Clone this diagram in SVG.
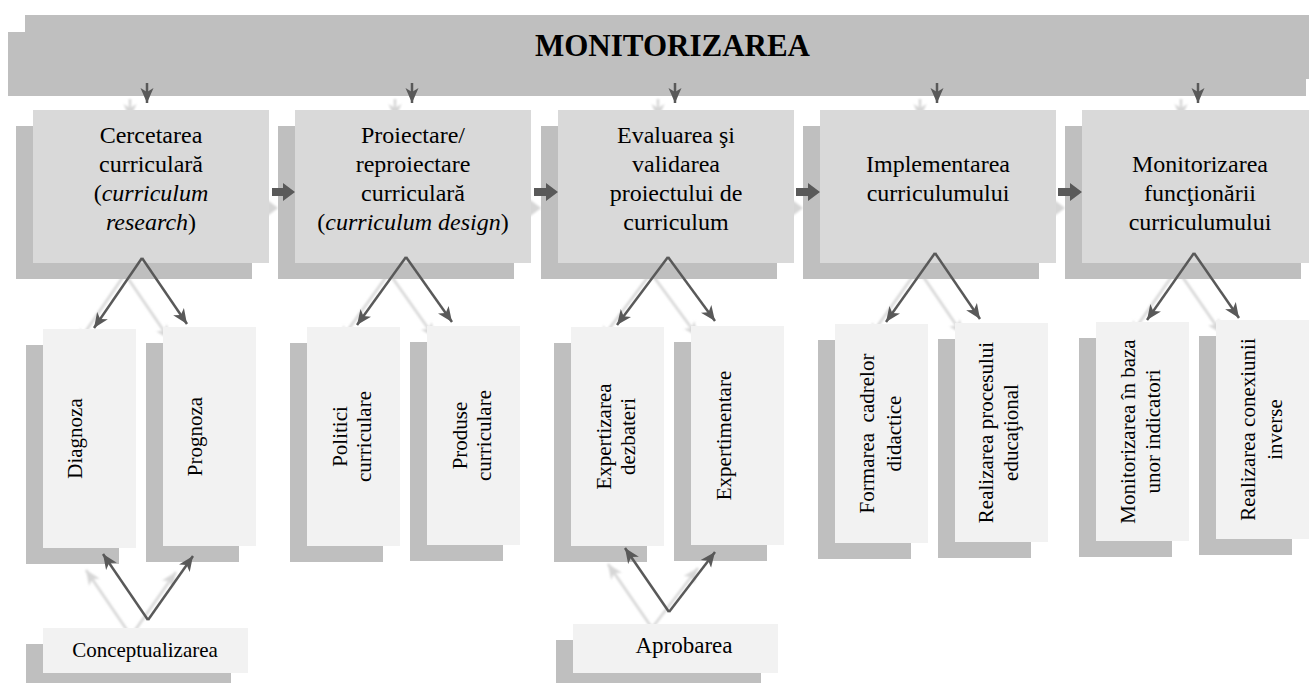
<svg xmlns="http://www.w3.org/2000/svg" width="1309" height="683" viewBox="0 0 1309 683">
<defs>
<marker id="ah" markerUnits="userSpaceOnUse" markerWidth="16" markerHeight="14" refX="15" refY="7" orient="auto"><path d="M0,0.5 L15,7 L0,13.5 L4,7 z" fill="#595959"/></marker>
<marker id="ahl" markerUnits="userSpaceOnUse" markerWidth="16" markerHeight="14" refX="15" refY="7" orient="auto"><path d="M0,0.5 L15,7 L0,13.5 L4,7 z" fill="#d6d6d6"/></marker>
<filter id="soft" x="-10%" y="-10%" width="120%" height="120%"><feGaussianBlur stdDeviation="1"/></filter>
</defs>
<style>
.sh{fill:#bfbfbf}
.top{fill:#d9d9d9}
.bot{fill:#f2f2f2}
.ban{fill:#bfbfbf}
.t{font-family:"Liberation Serif","Times New Roman",serif;fill:#000}
.t24{font-size:24px}
.t21{font-size:21px}
.c{stroke:#595959;stroke-width:2.5;fill:none;marker-end:url(#ah)}
.cl{stroke:#d6d6d6;stroke-width:2.5;fill:none;marker-end:url(#ahl)}
.blk{fill:#595959}
.blkl{fill:#d6d6d6}
</style>

<g id="banner">
<rect class="ban" x="8" y="32" width="1298" height="64"/>
<rect class="ban" x="25" y="15" width="1298" height="64"/>
<text class="t" x="672.5" y="56" font-size="31" font-weight="bold" text-anchor="middle">MONITORIZAREA</text>
</g>

<g id="connector-shadows" filter="url(#soft)">
<path class="cl" d="M130,99 V119"/>
<path class="cl" d="M395,99 V119"/>
<path class="cl" d="M658,99 V119"/>
<path class="cl" d="M920,99 V119"/>
<path class="cl" d="M1181,99 V119"/>
<polygon class="blkl" points="255,204 266,204 266,199 278,208 266,217 266,212 255,212"/>
<polygon class="blkl" points="517,204 529,204 529,199 541,208 529,217 529,212 517,212"/>
<polygon class="blkl" points="779,204 791,204 791,199 803,208 791,217 791,212 779,212"/>
<polygon class="blkl" points="1041,204 1053,204 1053,199 1065,208 1053,217 1053,212 1041,212"/>
<path class="cl" d="M125,274 L77,344"/>
<path class="cl" d="M125,274 L170,340"/>
<path class="cl" d="M389,273 L340,341"/>
<path class="cl" d="M389,273 L435,338"/>
<path class="cl" d="M651,273 L600,341"/>
<path class="cl" d="M651,273 L698,337"/>
<path class="cl" d="M918,269 L869,338"/>
<path class="cl" d="M918,269 L963,335"/>
<path class="cl" d="M1177,269 L1130,336"/>
<path class="cl" d="M1177,269 L1222,334"/>
<path class="cl" d="M131,636 L86,570"/>
<path class="cl" d="M131,636 L176,572"/>
<path class="cl" d="M652,628 L608,564"/>
<path class="cl" d="M652,628 L698,568"/>
</g>

<g id="n-cercetarea">
<rect class="sh" x="16" y="126" width="236" height="153"/>
<rect class="top" x="33" y="110" width="236" height="153"/>
<text class="t t24" text-anchor="middle"><tspan x="151" y="143">Cercetarea</tspan><tspan x="151" y="172">curriculară</tspan><tspan x="151" y="201">(<tspan font-style="italic">curriculum</tspan></tspan><tspan x="151" y="230"><tspan font-style="italic">research</tspan>)</tspan></text>
</g>
<g id="n-proiectare">
<rect class="sh" x="278" y="126" width="236" height="153"/>
<rect class="top" x="295" y="110" width="236" height="153"/>
<text class="t t24" text-anchor="middle"><tspan x="413" y="143">Proiectare/</tspan><tspan x="413" y="172">reproiectare</tspan><tspan x="413" y="201">curriculară</tspan><tspan x="413" y="230">(<tspan font-style="italic">curriculum design</tspan>)</tspan></text>
</g>
<g id="n-evaluarea">
<rect class="sh" x="541" y="126" width="236" height="153"/>
<rect class="top" x="558" y="110" width="236" height="153"/>
<text class="t t24" text-anchor="middle"><tspan x="676" y="143">Evaluarea şi</tspan><tspan x="676" y="172">validarea</tspan><tspan x="676" y="201">proiectului de</tspan><tspan x="676" y="230">curriculum</tspan></text>
</g>
<g id="n-implementarea">
<rect class="sh" x="803" y="126" width="236" height="153"/>
<rect class="top" x="820" y="110" width="236" height="153"/>
<text class="t t24" text-anchor="middle"><tspan x="938" y="172">Implementarea</tspan><tspan x="938" y="201">curriculumului</tspan></text>
</g>
<g id="n-monitorizarea-functionarii">
<rect class="sh" x="1065" y="126" width="236" height="153"/>
<rect class="top" x="1082" y="110" width="236" height="153"/>
<text class="t t24" text-anchor="middle"><tspan x="1200" y="172">Monitorizarea</tspan><tspan x="1200" y="201">funcţionării</tspan><tspan x="1200" y="230">curriculumului</tspan></text>
</g>

<g id="n-diagnoza">
<rect class="sh" x="26" y="345" width="93" height="219"/>
<rect class="bot" x="43" y="329" width="93" height="219"/>
<text class="t t21" text-anchor="middle" transform="translate(82,438.5) rotate(-90)">Diagnoza</text>
</g>
<g id="n-prognoza">
<rect class="sh" x="146" y="343" width="93" height="219"/>
<rect class="bot" x="163" y="327" width="93" height="219"/>
<text class="t t21" text-anchor="middle" transform="translate(202,436.5) rotate(-90)">Prognoza</text>
</g>
<g id="n-politici">
<rect class="sh" x="290" y="343" width="93" height="219"/>
<rect class="bot" x="307" y="327" width="93" height="219"/>
<text class="t t21" text-anchor="middle" transform="translate(347,436.5) rotate(-90)">Politici</text>
<text class="t t21" text-anchor="middle" transform="translate(371,436.5) rotate(-90)">curriculare</text>
</g>
<g id="n-produse">
<rect class="sh" x="410" y="342" width="93" height="219"/>
<rect class="bot" x="427" y="326" width="93" height="219"/>
<text class="t t21" text-anchor="middle" transform="translate(467,435.5) rotate(-90)">Produse</text>
<text class="t t21" text-anchor="middle" transform="translate(491,435.5) rotate(-90)">curriculare</text>
</g>
<g id="n-expertizarea">
<rect class="sh" x="554" y="343" width="93" height="219"/>
<rect class="bot" x="571" y="327" width="93" height="219"/>
<text class="t t21" text-anchor="middle" transform="translate(611,436.5) rotate(-90)">Expertizarea</text>
<text class="t t21" text-anchor="middle" transform="translate(635,436.5) rotate(-90)">dezbateri</text>
</g>
<g id="n-expertimentare">
<rect class="sh" x="674" y="342" width="93" height="219"/>
<rect class="bot" x="691" y="326" width="93" height="219"/>
<text class="t t21" text-anchor="middle" transform="translate(731,435.5) rotate(-90)">Expertimentare</text>
</g>
<g id="n-formarea">
<rect class="sh" x="818" y="340" width="93" height="219"/>
<rect class="bot" x="835" y="324" width="93" height="219"/>
<text class="t t21" text-anchor="middle" style="white-space:pre" transform="translate(874,433.5) rotate(-90)">Formarea  cadrelor</text>
<text class="t t21" text-anchor="middle" transform="translate(901,433.5) rotate(-90)">didactice</text>
</g>
<g id="n-realizarea-procesului">
<rect class="sh" x="938" y="339" width="93" height="219"/>
<rect class="bot" x="955" y="323" width="93" height="219"/>
<text class="t t21" text-anchor="middle" transform="translate(993,432.5) rotate(-90)">Realizarea procesului</text>
<text class="t t21" text-anchor="middle" transform="translate(1018,432.5) rotate(-90)">educaţional</text>
</g>
<g id="n-monitorizarea-indicatori">
<rect class="sh" x="1079" y="338" width="93" height="219"/>
<rect class="bot" x="1096" y="322" width="93" height="219"/>
<text class="t t21" text-anchor="middle" transform="translate(1135,431.5) rotate(-90)">Monitorizarea în baza</text>
<text class="t t21" text-anchor="middle" transform="translate(1160,431.5) rotate(-90)">unor indicatori</text>
</g>
<g id="n-realizarea-conexiunii">
<rect class="sh" x="1199" y="336" width="93" height="219"/>
<rect class="bot" x="1216" y="320" width="93" height="219"/>
<text class="t t21" text-anchor="middle" transform="translate(1255,429.5) rotate(-90)">Realizarea conexiunii</text>
<text class="t t21" text-anchor="middle" transform="translate(1282,429.5) rotate(-90)">inverse</text>
</g>

<g id="n-conceptualizarea">
<rect class="sh" x="26" y="644" width="205" height="45"/>
<rect class="bot" x="43" y="628" width="205" height="45"/>
<text class="t t21" x="145" y="657" text-anchor="middle">Conceptualizarea</text>
</g>
<g id="n-aprobarea">
<rect class="sh" x="556" y="640" width="205" height="49"/>
<rect class="bot" x="573" y="624" width="205" height="49"/>
<text class="t" x="684" y="653" font-size="23" text-anchor="middle">Aprobarea</text>
</g>

<g id="connectors">
<path class="c" d="M147,83 V103"/>
<path class="c" d="M412,83 V103"/>
<path class="c" d="M675,83 V103"/>
<path class="c" d="M937,83 V103"/>
<path class="c" d="M1198,83 V103"/>
<polygon class="blk" points="272,188 283,188 283,183 295,192 283,201 283,196 272,196"/>
<polygon class="blk" points="534,188 546,188 546,183 558,192 546,201 546,196 534,196"/>
<polygon class="blk" points="796,188 808,188 808,183 820,192 808,201 808,196 796,196"/>
<polygon class="blk" points="1058,188 1070,188 1070,183 1082,192 1070,201 1070,196 1058,196"/>
<path class="c" d="M142,258 L94,328"/>
<path class="c" d="M142,258 L187,324"/>
<path class="c" d="M406,257 L357,325"/>
<path class="c" d="M406,257 L452,322"/>
<path class="c" d="M668,257 L617,325"/>
<path class="c" d="M668,257 L715,321"/>
<path class="c" d="M935,253 L886,322"/>
<path class="c" d="M935,253 L980,319"/>
<path class="c" d="M1194,253 L1147,320"/>
<path class="c" d="M1194,253 L1239,318"/>
<path class="c" d="M148,620 L103,554"/>
<path class="c" d="M148,620 L193,556"/>
<path class="c" d="M669,612 L625,548"/>
<path class="c" d="M669,612 L715,552"/>
</g>
</svg>
